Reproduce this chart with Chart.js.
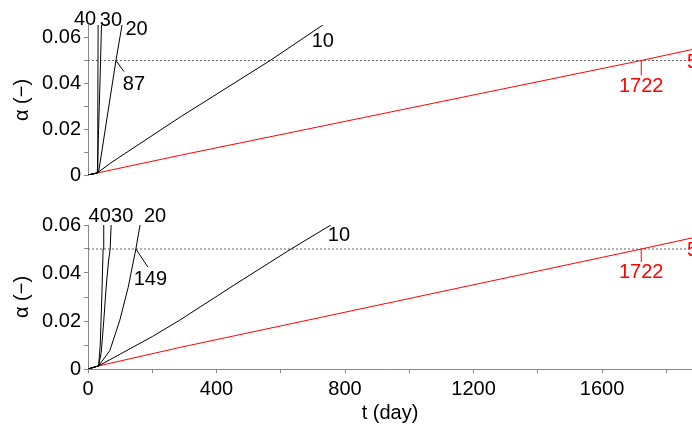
<!DOCTYPE html>
<html lang="en">
<head>
<meta charset="UTF-8">
<title>alpha vs t</title>
<script src="https://cdn.jsdelivr.net/npm/chart.js"></script>
<style>
  html, body { margin: 0; padding: 0; background: #fff; }
  canvas { display: block; }
</style>
</head>
<body>
<canvas id="topChart" width="692" height="200"></canvas>
<canvas id="bottomChart" width="692" height="225"></canvas>
<script>
// shared
const T_MAX = 1880;
const A_LIMIT = 0.05;
const seriesNames = ['40', '30', '20', '10', '5'];
const seriesColors = ['#000', '#000', '#000', '#000', '#ff0000'];
const xTickStep = 200;
const yTickStep = 0.01;

// upper panel
const topT40 = [0, 29, 30.5, 31.5];
const topA40 = [0, 0.0009, 0.03, 0.0655];
const topT30 = [0, 29, 33, 37.5, 42];
const topA30 = [0, 0.0009, 0.02, 0.0415, 0.0655];
const topT20 = [0, 29, 33, 87, 106];
const topA20 = [0, 0.0009, 0.0012, 0.05, 0.0655];
const topT10 = [0, 29, 70, 287, 567, 731];
const topA10 = [0, 0.0009, 0.0052, 0.0253, 0.05, 0.0655];
const topT5 = [0, 29, 290, 1722, 1880];
const topA5 = [0, 0.0009, 0.0087, 0.05, 0.0548];
const topCross = [87, 1722];

// lower panel
const botT40 = [0, 33, 38, 43, 47, 49];
const botA40 = [0, 0.0013, 0.01, 0.03, 0.05, 0.06];
const botT30 = [0, 33, 41, 49, 57, 64, 69, 72];
const botA30 = [0, 0.0013, 0.0067, 0.02, 0.035, 0.045, 0.05, 0.06];
const botT20 = [0, 33, 68, 99, 125, 149, 162];
const botA20 = [0, 0.0013, 0.0077, 0.0203, 0.034, 0.05, 0.06];
const botT10 = [0, 33, 100, 200, 285, 455, 632, 756];
const botA10 = [0, 0.0013, 0.0062, 0.0135, 0.0203, 0.035, 0.05, 0.06];
const botT5 = [0, 33, 290, 1722, 1880];
const botA5 = [0, 0.0013, 0.0091, 0.05, 0.0546];
const botCross = [149, 1722];

const FONT = '"Liberation Sans", Arial, sans-serif';
Chart.defaults.font.family = FONT;
Chart.defaults.font.size = 20;
Chart.defaults.color = '#000';

function pts(ts, as) {
    return ts.map((t, i) => ({ x: t, y: as[i] }));
}

function fmtY(v) {
    const k = Math.round(v * 100);
    if (k % 2 !== 0) return '';
    return k === 0 ? '0' : (k / 100).toFixed(2);
}

// curve labels and the 0.05 crossing marks
const annotate = {
    id: 'annotate',
    afterDatasetsDraw(chart, args, opts) {
        const { ctx } = chart;
        const x = chart.scales.x, y = chart.scales.y;
        ctx.save();
        ctx.font = '20px ' + FONT;
        ctx.textBaseline = 'middle';
        opts.ends.forEach((e, i) => {
            const ds = chart.data.datasets[i];
            const last = ds.data[ds.data.length - 1];
            ctx.fillStyle = ds.borderColor;
            ctx.textAlign = e.align || 'center';
            ctx.fillText(ds.label, x.getPixelForValue(last.x) + e.dx, y.getPixelForValue(last.y) + e.dy);
        });
        opts.cross.forEach(c => {
            const px = x.getPixelForValue(c.t);
            const py = y.getPixelForValue(A_LIMIT);
            ctx.strokeStyle = c.color;
            ctx.lineWidth = 1;
            ctx.beginPath();
            ctx.moveTo(px, py);
            ctx.lineTo(px + c.lx, py + c.ly);
            ctx.stroke();
            ctx.fillStyle = c.color;
            ctx.textAlign = 'center';
            ctx.fillText(String(c.t), px + c.tx, py + c.ty);
        });
        ctx.restore();
    }
};

function makePanel(id, ts, as, yMax, showX, ends, cross) {
    const datasets = ts.map((t, i) => ({
        label: seriesNames[i],
        data: pts(t, as[i]),
        borderColor: seriesColors[i],
        borderWidth: 1,
        pointRadius: 0,
        tension: 0
    }));
    datasets.push({
        label: '',
        data: [{ x: 0, y: A_LIMIT }, { x: T_MAX, y: A_LIMIT }],
        borderColor: '#666',
        borderWidth: 1,
        borderDash: [2, 2],
        pointRadius: 0
    });

    const xScale = {
        type: 'linear',
        display: showX,
        min: 0,
        max: T_MAX,
        border: { display: true, color: '#888' },
        grid: { display: true, drawOnChartArea: false, tickLength: 4, color: '#888' },
        ticks: {
            stepSize: xTickStep,
            includeBounds: false,
            autoSkip: false,
            maxRotation: 0,
            padding: 4,
            callback: v => (v % 400 === 0 ? String(v) : '')
        },
        title: { display: true, text: 't (day)', padding: { top: 0, bottom: 0 } }
    };
    if (showX) xScale.afterFit = s => { s.height = 56; };

    new Chart(document.getElementById(id), {
        type: 'line',
        data: { datasets },
        options: {
            responsive: false,
            animation: false,
            devicePixelRatio: 1,
            layout: { padding: { left: 0, right: 0, top: 25, bottom: showX ? 0 : 25 } },
            plugins: {
                legend: { display: false },
                tooltip: { enabled: false },
                annotate: { ends, cross }
            },
            scales: {
                x: xScale,
                y: {
                    type: 'linear',
                    min: 0,
                    max: yMax,
                    afterFit(s) { s.width = 88; },
                    border: { display: true, color: '#888' },
                    grid: { display: true, drawOnChartArea: false, tickLength: 4, color: '#888' },
                    ticks: {
                        stepSize: yTickStep,
                        includeBounds: false,
                        autoSkip: false,
                        padding: 3,
                        callback: fmtY
                    },
                    title: { display: true, text: 'α (−)', padding: { top: 10, bottom: 0 } }
                }
            }
        },
        plugins: [annotate]
    });
}

makePanel('topChart',
    [topT40, topT30, topT20, topT10, topT5],
    [topA40, topA30, topA20, topA10, topA5],
    0.0655, false,
    [{ dx: -13, dy: -6 }, { dx: 9.5, dy: -5 }, { dx: 14.5, dy: 4 }, { dx: 0, dy: 16 }, { dx: -5, dy: 13, align: 'left' }],
    [{ t: topCross[0], color: '#000', lx: 8, ly: 11, tx: 18, ty: 24 },
     { t: topCross[1], color: '#ff0000', lx: 0, ly: 15, tx: 0, ty: 26 }]);

makePanel('bottomChart',
    [botT40, botT30, botT20, botT10, botT5],
    [botA40, botA30, botA20, botA10, botA5],
    0.06, true,
    [{ dx: -4, dy: -9 }, { dx: 11, dy: -9 }, { dx: 15, dy: -9 }, { dx: 8, dy: 10 }, { dx: -5, dy: 13, align: 'left' }],
    [{ t: botCross[0], color: '#000', lx: 12, ly: 18, tx: 14.5, ty: 30 },
     { t: botCross[1], color: '#ff0000', lx: 0, ly: 13, tx: 0, ty: 23 }]);
</script>
</body>
</html>
